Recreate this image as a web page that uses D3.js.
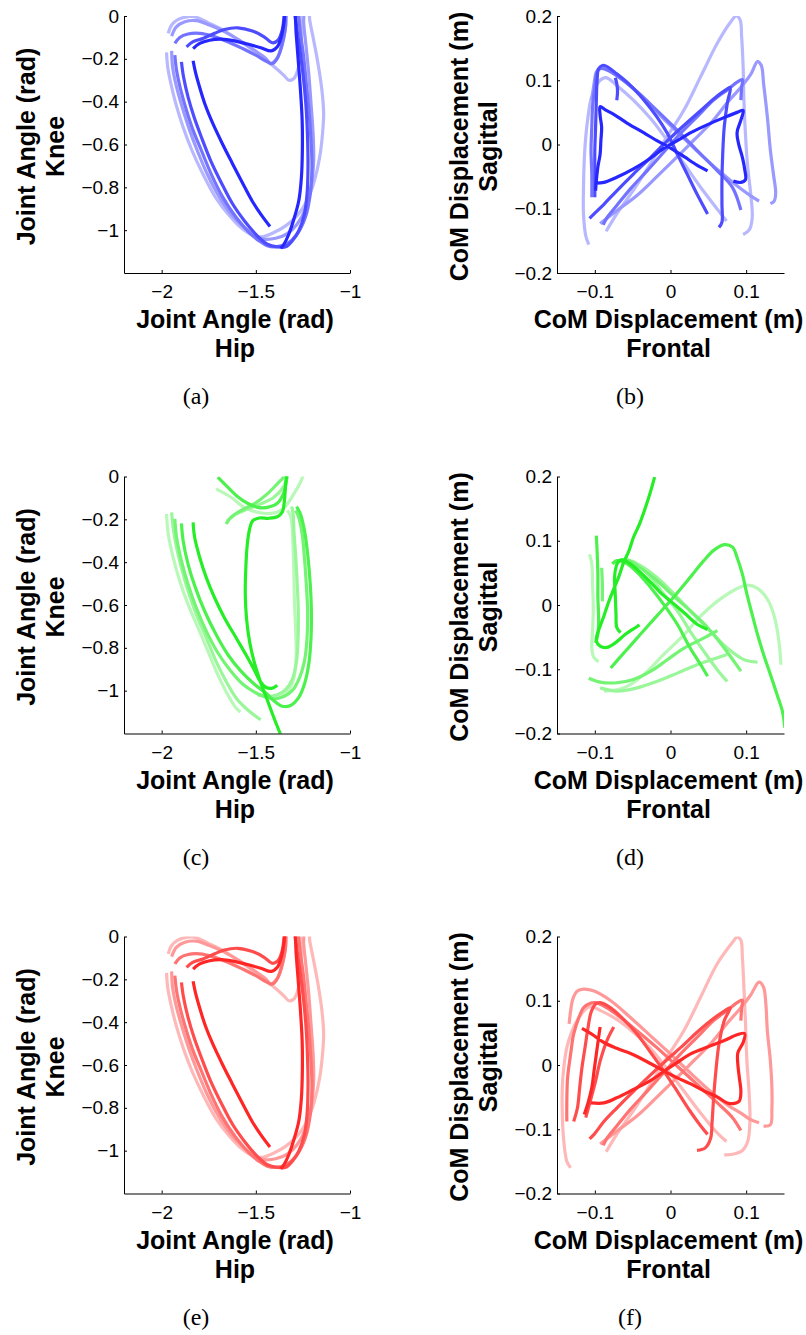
<!DOCTYPE html>
<html>
<head>
<meta charset="utf-8">
<script src="https://cdn.jsdelivr.net/npm/d3@7"></script>
<style>
  html, body { margin: 0; padding: 0; background: #fff; }
  svg text { fill: #000; }
</style>
</head>
<body>
<svg id="fig" width="806" height="1335"></svg>
<script>
// ---------------------------------------------------------------
// Gait trajectories: five consecutive strides per condition.
// Each trace is a list of [x, y] samples; null marks a break.
// ---------------------------------------------------------------

// Hip (x) vs knee (y) joint angle, rad — condition 1 (also used for condition 3)
const jointA1 = [[-1.833,-0.209],[-1.821,-0.261],[-1.798,-0.334],[-1.768,-0.417],[-1.728,-0.503],[-1.679,-0.594],[-1.626,-0.686],[-1.570,-0.781],[-1.518,-0.866],[-1.474,-0.925],[-1.425,-0.983], null,
  [-1.833,-0.152],[-1.798,-0.128],[-1.746,-0.113],[-1.684,-0.108],[-1.614,-0.116],[-1.544,-0.131],[-1.474,-0.148],[-1.418,-0.163],[-1.386,-0.144],[-1.365,-0.097],[-1.351,-0.034],[-1.344,0.013],[-1.319,0.044],[-1.295,0.013],[-1.286,-0.081],[-1.275,-0.206],[-1.263,-0.347],[-1.254,-0.488],[-1.253,-0.628],[-1.258,-0.753],[-1.272,-0.863],[-1.295,-0.940],[-1.325,-1.019],[-1.351,-1.066],[-1.368,-1.084]];
const jointA2 = [[-1.868,-0.144],[-1.833,-0.120],[-1.781,-0.105],[-1.719,-0.081],[-1.667,-0.063],[-1.596,-0.055],[-1.518,-0.070],[-1.456,-0.097],[-1.412,-0.125],[-1.382,-0.113],[-1.360,-0.066],[-1.351,-0.011],[-1.347,0.028],[-1.318,0.060],[-1.289,0.028],
  [-1.289,-0.003],[-1.281,-0.066],[-1.263,-0.175],[-1.246,-0.300],[-1.232,-0.441],[-1.225,-0.581],[-1.223,-0.706],[-1.228,-0.831],[-1.242,-0.925],[-1.272,-1.003],[-1.307,-1.050],[-1.342,-1.078],[-1.386,-1.078],[-1.439,-1.066],[-1.474,-1.042],[-1.509,-1.011],[-1.561,-0.956],[-1.623,-0.878],[-1.684,-0.777],[-1.740,-0.675],[-1.789,-0.566],[-1.828,-0.472],[-1.860,-0.378],[-1.884,-0.284],[-1.895,-0.214]];
const jointA3 = [[-1.930,-0.128],[-1.904,-0.100],[-1.860,-0.084],[-1.798,-0.081],[-1.728,-0.094],[-1.649,-0.120],[-1.570,-0.152],[-1.500,-0.183],[-1.439,-0.214],[-1.412,-0.222],[-1.382,-0.191],[-1.360,-0.128],[-1.342,-0.050],[-1.337,0.028],[-1.307,0.059],[-1.281,0.028],
  [-1.263,-0.081],[-1.246,-0.191],[-1.232,-0.316],[-1.218,-0.441],[-1.207,-0.581],[-1.202,-0.706],[-1.211,-0.831],[-1.237,-0.940],[-1.281,-1.019],[-1.333,-1.063],[-1.395,-1.078],[-1.439,-1.073],[-1.482,-1.050],[-1.535,-1.011],[-1.605,-0.940],[-1.675,-0.847],[-1.737,-0.738],[-1.789,-0.628],[-1.833,-0.534],[-1.868,-0.441],[-1.898,-0.347],[-1.921,-0.253],[-1.930,-0.183]];
const jointA4 = [[-1.947,-0.094],[-1.921,-0.050],[-1.877,-0.027],[-1.816,-0.022],[-1.746,-0.042],[-1.667,-0.073],[-1.588,-0.113],[-1.509,-0.159],[-1.447,-0.198],[-1.421,-0.222],[-1.395,-0.206],[-1.368,-0.159],[-1.347,-0.081],[-1.339,-0.003],[-1.337,0.028],[-1.289,0.059],[-1.249,0.028],
  [-1.246,-0.034],[-1.233,-0.144],[-1.219,-0.269],[-1.207,-0.409],[-1.196,-0.550],[-1.193,-0.675],[-1.207,-0.800],[-1.237,-0.902],[-1.281,-0.972],[-1.333,-1.016],[-1.395,-1.038],[-1.456,-1.042],[-1.500,-1.027],[-1.561,-0.988],[-1.632,-0.925],[-1.698,-0.839],[-1.758,-0.738],[-1.811,-0.628],[-1.854,-0.527],[-1.891,-0.425],[-1.921,-0.331],[-1.942,-0.238],[-1.947,-0.163]];
const jointA5 = [[-1.965,-0.081],[-1.947,-0.042],[-1.912,-0.016],[-1.860,-0.003],[-1.816,-0.006],[-1.754,-0.031],[-1.667,-0.069],[-1.579,-0.120],[-1.491,-0.175],[-1.412,-0.230],[-1.351,-0.277],[-1.325,-0.300],[-1.298,-0.292],[-1.275,-0.245],[-1.263,-0.159],[-1.258,-0.066],[-1.263,-0.003],[-1.267,0.028],[-1.246,0.059],[-1.219,0.028],
  [-1.214,-0.019],[-1.193,-0.113],[-1.170,-0.222],[-1.149,-0.347],[-1.140,-0.456],[-1.146,-0.550],[-1.161,-0.659],[-1.189,-0.769],[-1.228,-0.863],[-1.281,-0.933],[-1.342,-0.980],[-1.404,-1.011],[-1.465,-1.031],[-1.509,-1.027],[-1.570,-0.995],[-1.640,-0.933],[-1.714,-0.847],[-1.781,-0.738],[-1.839,-0.628],[-1.886,-0.519],[-1.925,-0.409],[-1.951,-0.316],[-1.968,-0.238],[-1.974,-0.170]];

// Frontal (x) vs sagittal (y) CoM displacement, m — condition 1
const comB1 = [[-0.099,-0.072],[-0.098,-0.056],[-0.096,-0.035],[-0.093,-0.015],[-0.092,0.006],[-0.091,0.027],[-0.093,0.045],[-0.093,0.059],[-0.086,0.054],[-0.075,0.047],[-0.057,0.033],[-0.035,0.018],[-0.018,0.006],[-0.002,-0.004],[0.018,-0.019],[0.035,-0.032],[0.049,-0.041], null,
  [0.083,-0.057],[0.093,-0.059],[0.099,-0.055],[0.098,-0.038],[0.095,-0.020],[0.090,0.001],[0.088,0.019],[0.093,0.038],[0.096,0.053],[0.088,0.050],[0.071,0.042],[0.049,0.031],[0.026,0.018],[0.009,0.006],[-0.009,-0.006],[-0.026,-0.021],[-0.049,-0.038],[-0.071,-0.051],[-0.088,-0.059],[-0.099,-0.060]];
const comB2 = [[-0.073,0.104],[-0.071,0.095],[-0.070,0.082],[-0.071,0.069], null,
  [-0.100,-0.082],[-0.100,-0.046],[-0.100,-0.009],[-0.099,0.027],[-0.098,0.069],[-0.097,0.100],[-0.095,0.118],[-0.090,0.123],[-0.085,0.122],[-0.071,0.110],[-0.053,0.092],[-0.035,0.069],[-0.018,0.043],[-0.004,0.017],[0.009,-0.015],[0.022,-0.046],[0.035,-0.077],[0.049,-0.108], null,
  [0.064,-0.129],[0.068,-0.121],[0.068,-0.093],[0.068,-0.056],[0.069,-0.015],[0.071,0.027],[0.075,0.064],[0.079,0.089],[0.073,0.085],[0.057,0.071],[0.040,0.053],[0.018,0.030],[-0.004,0.006],[-0.026,-0.020],[-0.049,-0.046],[-0.071,-0.072],[-0.088,-0.093],[-0.101,-0.108],[-0.107,-0.115]];
const comB3 = [[-0.104,-0.082],[-0.104,-0.046],[-0.105,-0.009],[-0.104,0.027],[-0.103,0.058],[-0.100,0.090],[-0.097,0.113],[-0.093,0.118],[-0.084,0.116],[-0.066,0.103],[-0.044,0.082],[-0.018,0.053],[0.009,0.022],[0.035,-0.009],[0.062,-0.041],[0.082,-0.067],[0.093,-0.102], null,
  [0.093,0.069],[0.094,0.089],[0.095,0.101],[0.088,0.097],[0.075,0.085],[0.057,0.069],[0.035,0.043],[0.013,0.017],[-0.009,-0.012],[-0.031,-0.041],[-0.053,-0.069],[-0.071,-0.095],[-0.084,-0.114],[-0.089,-0.125]];
const comB4 = [[-0.104,0.069],[-0.101,0.095],[-0.098,0.113],[-0.093,0.119],[-0.082,0.116],[-0.062,0.100],[-0.035,0.071],[-0.009,0.040],[0.018,0.009],[0.044,-0.020],[0.071,-0.048],[0.093,-0.069],[0.106,-0.080],[0.117,-0.088], null,
  [0.132,-0.092],[0.137,-0.088],[0.139,-0.075],[0.136,-0.046],[0.132,-0.009],[0.128,0.043],[0.123,0.095],[0.120,0.123],[0.115,0.129],[0.106,0.109],[0.093,0.089],[0.075,0.065],[0.053,0.033],[0.031,0.007],[0.009,-0.019],[-0.018,-0.050],[-0.044,-0.079],[-0.071,-0.103],[-0.093,-0.123]];
const comB5 = [[-0.108,-0.156],[-0.112,-0.142],[-0.115,-0.108],[-0.115,-0.067],[-0.114,-0.025],[-0.112,0.012],[-0.109,0.043],[-0.105,0.071],[-0.098,0.092],[-0.092,0.101],[-0.085,0.104],[-0.071,0.092],[-0.049,0.069],[-0.026,0.040],[-0.004,0.006],[0.018,-0.030],[0.040,-0.067],[0.062,-0.101],[0.074,-0.119], null,
  [0.096,-0.140],[0.104,-0.133],[0.108,-0.114],[0.106,-0.077],[0.102,-0.035],[0.099,0.017],[0.097,0.069],[0.096,0.121],[0.094,0.168],[0.092,0.194],[0.087,0.200],[0.079,0.190],[0.062,0.158],[0.040,0.106],[0.018,0.054],[-0.004,0.013],[-0.026,-0.029],[-0.049,-0.071],[-0.071,-0.108],[-0.085,-0.135]];

// Hip vs knee joint angle — condition 2
const jointC1 = [[-1.833,-0.214],[-1.825,-0.284],[-1.798,-0.378],[-1.763,-0.472],[-1.719,-0.566],[-1.667,-0.659],[-1.605,-0.753],[-1.553,-0.831],[-1.509,-0.902],[-1.477,-0.956],[-1.447,-0.984],[-1.412,-0.988],[-1.386,-0.975], null,
  [-1.368,-1.206],[-1.400,-1.136],[-1.433,-1.058],[-1.470,-0.972],[-1.505,-0.878],[-1.532,-0.777],[-1.549,-0.667],[-1.556,-0.550],[-1.553,-0.425],[-1.546,-0.323],[-1.533,-0.245],[-1.516,-0.206],[-1.482,-0.194],[-1.430,-0.195],[-1.386,-0.188],[-1.360,-0.167],[-1.349,-0.120],[-1.344,-0.066],[-1.339,-0.011],[-1.335,0.020]];
const jointC2 = [[-1.702,-0.003],[-1.649,-0.050],[-1.596,-0.094],[-1.544,-0.125],[-1.491,-0.144],[-1.439,-0.144],[-1.386,-0.125],[-1.354,-0.081],[-1.339,-0.027],[-1.333,0.013], null,
  [-1.895,-0.219],[-1.886,-0.300],[-1.860,-0.409],[-1.821,-0.519],[-1.772,-0.628],[-1.711,-0.738],[-1.649,-0.831],[-1.579,-0.909],[-1.509,-0.969],[-1.447,-1.011],[-1.404,-1.047],[-1.360,-1.073],[-1.316,-1.069],[-1.272,-1.031],[-1.240,-0.964],[-1.218,-0.870],[-1.207,-0.753],[-1.205,-0.628],[-1.211,-0.503],[-1.223,-0.378],[-1.240,-0.261],[-1.263,-0.175],[-1.284,-0.141]];
const jointC3 = [[-1.658,-0.222],[-1.632,-0.191],[-1.579,-0.159],[-1.509,-0.128],[-1.439,-0.081],[-1.386,-0.034],[-1.354,-0.003],[-1.347,0.020], null,
  [-1.930,-0.198],[-1.921,-0.284],[-1.895,-0.394],[-1.860,-0.503],[-1.816,-0.613],[-1.763,-0.722],[-1.702,-0.823],[-1.632,-0.909],[-1.570,-0.969],[-1.509,-1.006],[-1.456,-1.027],[-1.404,-1.038],[-1.351,-1.027],[-1.307,-1.000],[-1.272,-0.948],[-1.242,-0.863],[-1.228,-0.753],[-1.225,-0.628],[-1.232,-0.503],[-1.242,-0.378],[-1.254,-0.269],[-1.272,-0.191],[-1.289,-0.159]];
const jointC4 = [[-1.653,-0.209],[-1.605,-0.175],[-1.544,-0.152],[-1.474,-0.128],[-1.404,-0.097],[-1.354,-0.050],[-1.337,-0.011],[-1.333,0.020], null,
  [-1.947,-0.167],[-1.939,-0.238],[-1.921,-0.331],[-1.895,-0.425],[-1.860,-0.534],[-1.816,-0.644],[-1.763,-0.753],[-1.711,-0.863],[-1.658,-0.956],[-1.605,-1.034],[-1.544,-1.089],[-1.474,-1.136], null,
  [-1.491,-1.019],[-1.439,-1.027],[-1.386,-1.019],[-1.342,-0.995],[-1.307,-0.948],[-1.284,-0.863],[-1.275,-0.738],[-1.275,-0.613],[-1.281,-0.488],[-1.289,-0.363],[-1.298,-0.253],[-1.302,-0.175],[-1.310,-0.140]];
const jointC5 = [[-1.711,-0.058],[-1.632,-0.097],[-1.561,-0.144],[-1.491,-0.167],[-1.421,-0.172],[-1.368,-0.159],[-1.333,-0.128],[-1.298,-0.081],[-1.267,-0.034],[-1.249,0.005],[-1.246,0.020], null,
  [-1.974,-0.175],[-1.965,-0.269],[-1.939,-0.378],[-1.904,-0.488],[-1.860,-0.597],[-1.807,-0.706],[-1.754,-0.816],[-1.702,-0.925],[-1.649,-1.019],[-1.605,-1.081],[-1.582,-1.100], null,
  [-1.474,-1.019],[-1.421,-1.034],[-1.368,-1.027],[-1.325,-0.995],[-1.298,-0.940],[-1.286,-0.847],[-1.289,-0.706],[-1.295,-0.581],[-1.298,-0.456],[-1.302,-0.331],[-1.307,-0.238],[-1.316,-0.183],[-1.333,-0.159]];

// CoM displacement — condition 2
const comD1 = [[-0.021,0.199],[-0.026,0.178],[-0.033,0.152],[-0.041,0.126],[-0.049,0.105],[-0.055,0.084],[-0.062,0.066],[-0.068,0.045],[-0.075,0.025],[-0.082,0.004],[-0.088,-0.017],[-0.093,-0.033],[-0.097,-0.046],[-0.098,-0.056],[-0.093,-0.064],[-0.084,-0.066],[-0.073,-0.059],[-0.060,-0.046],[-0.046,-0.035],[-0.041,-0.031], null,
  [-0.066,-0.043],[-0.071,-0.035],[-0.072,-0.015],[-0.073,0.017],[-0.074,0.043],[-0.072,0.059],[-0.068,0.069],[-0.062,0.070],[-0.053,0.064],[-0.040,0.051],[-0.026,0.035],[-0.013,0.019],[0.000,0.006],[0.018,-0.012],[0.035,-0.030],[0.049,-0.038]];
const comD2 = [[-0.079,-0.098],[-0.062,-0.075],[-0.040,-0.046],[-0.018,-0.017],[0.004,0.012],[0.026,0.043],[0.044,0.069],[0.057,0.085],[0.071,0.094],[0.082,0.090],[0.088,0.074],[0.095,0.048],[0.101,0.017],[0.108,-0.015],[0.115,-0.046],[0.123,-0.077],[0.132,-0.108],[0.141,-0.140],[0.148,-0.166],[0.151,-0.191], null,
  [-0.098,0.108],[-0.097,0.084],[-0.096,0.048],[-0.096,0.012],[-0.095,-0.020],[-0.096,-0.046],[-0.099,-0.059], null,
  [-0.077,0.064],[-0.071,0.069],[-0.060,0.066],[-0.044,0.051],[-0.026,0.027],[-0.009,0.001],[0.009,-0.030],[0.026,-0.067],[0.040,-0.093],[0.049,-0.111]];
const comD3 = [[-0.108,-0.114],[-0.093,-0.120],[-0.071,-0.121],[-0.049,-0.116],[-0.026,-0.103],[-0.004,-0.085],[0.018,-0.067],[0.040,-0.054],[0.062,-0.040], null,
  [-0.091,0.058],[-0.090,0.032],[-0.090,0.006], null,
  [-0.073,0.064],[-0.066,0.069],[-0.057,0.070],[-0.040,0.058],[-0.018,0.038],[0.004,0.014],[0.026,-0.009],[0.049,-0.035],[0.071,-0.067],[0.093,-0.103]];
const comD4 = [[-0.093,-0.129],[-0.071,-0.134],[-0.044,-0.129],[-0.018,-0.119],[0.009,-0.106],[0.035,-0.093],[0.062,-0.082],[0.075,-0.077], null,
  [-0.071,0.064],[-0.064,0.070],[-0.053,0.069],[-0.035,0.058],[-0.013,0.038],[0.009,0.012],[0.031,-0.015],[0.053,-0.041],[0.075,-0.067],[0.097,-0.085],[0.115,-0.089], null,
  [-0.064,0.064],[-0.055,0.069],[-0.044,0.064],[-0.026,0.043],[-0.009,0.017],[0.009,-0.009],[0.026,-0.041],[0.044,-0.072],[0.062,-0.101],[0.075,-0.119]];
const comD5 = [[-0.088,-0.134],[-0.062,-0.129],[-0.035,-0.108],[-0.009,-0.077],[0.018,-0.046],[0.040,-0.017],[0.062,0.006],[0.084,0.023],[0.101,0.031],[0.115,0.026],[0.128,0.009],[0.137,-0.017],[0.143,-0.054],[0.146,-0.093], null,
  [-0.107,0.079],[-0.104,0.064],[-0.103,0.032],[-0.102,-0.004],[-0.103,-0.041],[-0.104,-0.067],[-0.101,-0.082],[-0.095,-0.088]];

// CoM displacement — condition 3
const comF1 = [[-0.117,0.057],[-0.104,0.048],[-0.088,0.035],[-0.071,0.026],[-0.049,0.016],[-0.026,0.002],[-0.009,-0.009],[0.009,-0.020],[0.026,-0.029],[0.044,-0.040],[0.062,-0.050],[0.075,-0.059],[0.083,-0.060],[0.091,-0.056],[0.093,-0.041],[0.091,-0.020],[0.089,0.001],[0.089,0.019],[0.096,0.035],[0.098,0.049],[0.088,0.047],[0.071,0.038],[0.049,0.028],[0.026,0.017],[0.009,0.004],[-0.009,-0.010],[-0.026,-0.024],[-0.049,-0.038],[-0.071,-0.051],[-0.088,-0.059],[-0.105,-0.059], null,
  [-0.093,0.059],[-0.095,0.043],[-0.098,0.017],[-0.101,-0.009],[-0.104,-0.035],[-0.109,-0.059],[-0.114,-0.077]];
const comF2 = [[-0.075,0.059],[-0.084,0.038],[-0.093,0.006],[-0.099,-0.025],[-0.106,-0.056],[-0.112,-0.082], null,
  [-0.128,-0.088],[-0.123,-0.067],[-0.120,-0.035],[-0.117,-0.004],[-0.113,0.027],[-0.109,0.058],[-0.105,0.082],[-0.099,0.095],[-0.093,0.097],[-0.079,0.089],[-0.062,0.071],[-0.044,0.048],[-0.026,0.019],[-0.009,-0.009],[0.009,-0.041],[0.026,-0.072],[0.040,-0.095],[0.049,-0.108], null,
  [0.035,-0.133],[0.046,-0.129],[0.053,-0.114],[0.055,-0.088],[0.057,-0.051],[0.060,-0.009],[0.064,0.032],[0.071,0.069],[0.079,0.089],[0.071,0.084],[0.053,0.069],[0.035,0.051],[0.018,0.032],[-0.004,0.009],[-0.026,-0.015],[-0.049,-0.041],[-0.071,-0.067],[-0.088,-0.088],[-0.101,-0.108],[-0.107,-0.115]];
const comF3 = [[-0.137,-0.088],[-0.137,-0.056],[-0.136,-0.020],[-0.132,0.017],[-0.128,0.048],[-0.121,0.074],[-0.115,0.089],[-0.108,0.095],[-0.099,0.097],[-0.084,0.089],[-0.066,0.074],[-0.044,0.053],[-0.018,0.027],[0.009,-0.002],[0.035,-0.030],[0.062,-0.059],[0.082,-0.082],[0.093,-0.102], null,
  [0.093,0.069],[0.094,0.089],[0.095,0.101],[0.088,0.097],[0.075,0.085],[0.057,0.069],[0.035,0.043],[0.013,0.017],[-0.009,-0.012],[-0.031,-0.041],[-0.053,-0.069],[-0.071,-0.095],[-0.084,-0.114],[-0.089,-0.125]];
const comF4 = [[-0.134,0.064],[-0.132,0.084],[-0.129,0.103],[-0.123,0.115],[-0.115,0.118],[-0.101,0.115],[-0.079,0.100],[-0.053,0.074],[-0.026,0.045],[0.000,0.017],[0.026,-0.012],[0.053,-0.041],[0.075,-0.062],[0.093,-0.075],[0.106,-0.085],[0.117,-0.090], null,
  [0.123,-0.095],[0.132,-0.093],[0.134,-0.067],[0.134,-0.035],[0.132,0.006],[0.128,0.053],[0.126,0.095],[0.123,0.121],[0.117,0.129],[0.106,0.109],[0.093,0.089],[0.075,0.065],[0.053,0.033],[0.031,0.007],[0.009,-0.019],[-0.018,-0.050],[-0.044,-0.079],[-0.071,-0.103],[-0.093,-0.123]];
const comF5 = [[-0.132,-0.160],[-0.137,-0.150],[-0.141,-0.119],[-0.143,-0.077],[-0.143,-0.035],[-0.141,-0.004],[-0.137,0.027],[-0.130,0.053],[-0.121,0.074],[-0.112,0.087],[-0.106,0.091],[-0.093,0.085],[-0.071,0.071],[-0.049,0.051],[-0.026,0.025],[-0.004,-0.007],[0.018,-0.041],[0.040,-0.075],[0.062,-0.106],[0.074,-0.119], null,
  [0.071,-0.140],[0.082,-0.139],[0.095,-0.133],[0.102,-0.119],[0.105,-0.088],[0.104,-0.046],[0.101,0.006],[0.099,0.069],[0.097,0.121],[0.095,0.168],[0.093,0.194],[0.088,0.199],[0.082,0.191],[0.062,0.158],[0.040,0.106],[0.018,0.054],[-0.004,0.013],[-0.026,-0.029],[-0.049,-0.071],[-0.071,-0.108],[-0.085,-0.135]];

// Axis ticks
const hipTicks = [-2, -1.5, -1];
const kneeTicks = [0, -0.2, -0.4, -0.6, -0.8, -1];
const frontalTicks = [-0.1, 0, 0.1];
const sagittalTicks = [0.2, 0.1, 0, -0.1, -0.2];

// Axis titles and sub-figure captions
const jointXTitle = ["Joint Angle (rad)", "Hip"];
const jointYTitle = ["Joint Angle (rad)", "Knee"];
const comXTitle = ["CoM Displacement (m)", "Frontal"];
const comYTitle = ["CoM Displacement (m)", "Sagittal"];
const captions = ["(a)", "(b)", "(c)", "(d)", "(e)", "(f)"];

// ---------------------------------------------------------------
// Drawing
// ---------------------------------------------------------------
const SANS = "'Liberation Sans', Arial, Helvetica, sans-serif";
const SERIF = "'Liberation Serif', 'Times New Roman', serif";

// stride shades: darkest first, progressively blended toward white
const blend = [0.15, 0.30, 0.45, 0.60, 0.72];
function shades(base) {
  return blend.map(t => d3.rgb(
    Math.round(base[0] + (255 - base[0]) * t),
    Math.round(base[1] + (255 - base[1]) * t),
    Math.round(base[2] + (255 - base[2]) * t)).formatHex());
}
const blue = shades([0, 0, 255]);
const green = shades([0, 235, 0]);
const red = shades([255, 0, 0]);

const colLeft = [124, 557], colRight = [350, 784];
const rowTop = [16, 476.5, 936.5], plotH = 257;
const captionX = [196, 630];

const jointFrame = { xDomain: [-2.2, -1], yDomain: [-1.2, 0], xTicks: hipTicks, yTicks: kneeTicks, xTitle: jointXTitle, yTitle: jointYTitle };
const comFrame = { xDomain: [-0.15, 0.15], yDomain: [-0.2, 0.2], xTicks: frontalTicks, yTicks: sagittalTicks, xTitle: comXTitle, yTitle: comYTitle };

const panels = [
  { row: 0, col: 0, frame: jointFrame, traces: [jointA1, jointA2, jointA3, jointA4, jointA5], colors: blue },
  { row: 0, col: 1, frame: comFrame, traces: [comB1, comB2, comB3, comB4, comB5], colors: blue },
  { row: 1, col: 0, frame: jointFrame, traces: [jointC1, jointC2, jointC3, jointC4, jointC5], colors: green },
  { row: 1, col: 1, frame: comFrame, traces: [comD1, comD2, comD3, comD4, comD5], colors: green },
  { row: 2, col: 0, frame: jointFrame, traces: [jointA1, jointA2, jointA3, jointA4, jointA5], colors: red },
  { row: 2, col: 1, frame: comFrame, traces: [comF1, comF2, comF3, comF4, comF5], colors: red }
];

const svg = d3.select("#fig");
const fmt = v => (v < 0 ? "\u2212" : "") + Math.abs(v);

panels.forEach((p, i) => {
  const left = colLeft[p.col], right = colRight[p.col];
  const top = rowTop[p.row], bottom = top + plotH;
  const f = p.frame;
  const x = d3.scaleLinear().domain(f.xDomain).range([left, right]);
  const y = d3.scaleLinear().domain(f.yDomain).range([bottom, top]);

  const g = svg.append("g");
  const clipId = "clip" + i;
  g.append("clipPath").attr("id", clipId)
    .append("rect").attr("x", left).attr("y", top)
    .attr("width", right - left).attr("height", bottom - top);

  const line = d3.line()
    .defined(d => d != null)
    .x(d => x(d[0])).y(d => y(d[1]))
    .curve(d3.curveCatmullRom.alpha(0.5));

  const curves = g.append("g").attr("clip-path", `url(#${clipId})`);
  // lighter strides underneath, darkest on top
  for (let k = p.traces.length - 1; k >= 0; k--) {
    curves.append("path")
      .attr("d", line(p.traces[k]))
      .attr("fill", "none")
      .attr("stroke", p.colors[k])
      .attr("stroke-width", 3.2)
      .attr("stroke-linejoin", "round")
      .attr("stroke-linecap", "butt");
  }

  const xAxis = g.append("g").attr("transform", `translate(0,${bottom})`)
    .call(d3.axisBottom(x).tickValues(f.xTicks).tickFormat(fmt)
      .tickSizeInner(-3).tickSizeOuter(0).tickPadding(12));
  const yAxis = g.append("g").attr("transform", `translate(${left},0)`)
    .call(d3.axisLeft(y).tickValues(f.yTicks).tickFormat(fmt)
      .tickSizeInner(-3).tickSizeOuter(0).tickPadding(5));
  [xAxis, yAxis].forEach(a => {
    a.attr("font-family", SANS).attr("font-size", 19);
    a.select(".domain").attr("stroke", "#000").attr("stroke-width", 1);
    a.selectAll(".tick line").attr("stroke", "#000");
    a.selectAll(".tick text").attr("fill", "#000");
  });

  const cx = (left + right) / 2 - 2;
  f.xTitle.forEach((t, j) => {
    g.append("text").attr("x", cx).attr("y", bottom + 55 + j * 29)
      .attr("text-anchor", "middle").attr("font-family", SANS)
      .attr("font-weight", "bold").attr("font-size", 25).text(t);
  });
  const cy = (top + bottom) / 2 + 2;
  f.yTitle.forEach((t, j) => {
    g.append("text")
      .attr("transform", `translate(${left - 89 + j * 28.5},${cy}) rotate(-90)`)
      .attr("text-anchor", "middle").attr("font-family", SANS)
      .attr("font-weight", "bold").attr("font-size", 25).text(t);
  });

  g.append("text").attr("x", captionX[p.col]).attr("y", top + 388)
    .attr("text-anchor", "middle").attr("font-family", SERIF)
    .attr("font-size", 24).text(captions[i]);
});
</script>
</body>
</html>
